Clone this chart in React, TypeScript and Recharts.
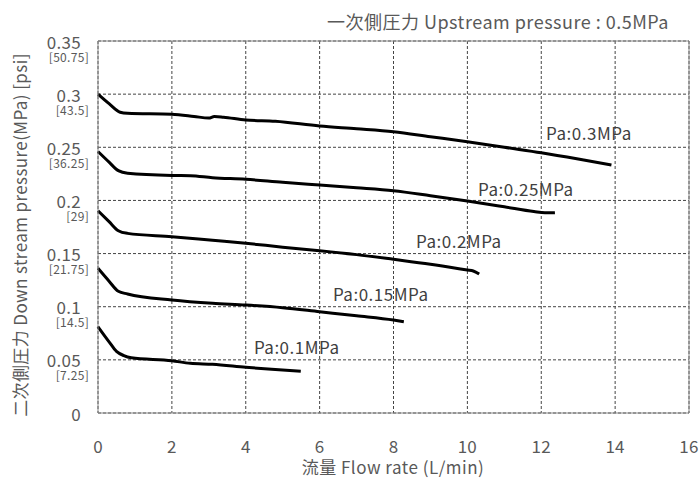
import { LineChart, Line, XAxis, YAxis, CartesianGrid, ReferenceLine, ReferenceDot } from "recharts";

// flow rate (L/min), downstream pressure (MPa)
const pa03: [number, number][] = [
  [0, 0.3], [0.3, 0.291], [0.6, 0.283], [0.8, 0.282], [2, 0.281], [2.6, 0.279], [3.0, 0.2775],
  [3.15, 0.279], [3.4, 0.2783], [4, 0.2757], [4.8, 0.2745], [6, 0.27], [7, 0.2675], [8, 0.2647],
  [9, 0.26], [10, 0.2553], [11, 0.25], [12, 0.2449], [13, 0.239], [13.9, 0.2333],
];
const pa025: [number, number][] = [
  [0, 0.246], [0.3, 0.236], [0.55, 0.228], [0.8, 0.2255], [2, 0.2235], [2.5, 0.2233], [3.1, 0.2214],
  [4, 0.2199], [5, 0.217], [6, 0.2145], [7, 0.212], [8, 0.2092], [9, 0.2045], [10, 0.1995],
  [11, 0.194], [11.8, 0.1895], [12.1, 0.1883], [12.37, 0.1885],
];
const pa02: [number, number][] = [
  [0, 0.1903], [0.3, 0.18], [0.55, 0.1715], [0.8, 0.169], [2, 0.1659], [3.1, 0.1625], [4, 0.1597],
  [5, 0.156], [6, 0.1527], [7, 0.149], [8, 0.1446], [9, 0.14], [10, 0.1345], [10.16, 0.1336], [10.32, 0.1307],
];
const pa015: [number, number][] = [
  [0, 0.1361], [0.3, 0.124], [0.55, 0.1145], [0.8, 0.112], [2, 0.1063], [3.1, 0.1032], [4, 0.1016],
  [5, 0.0991], [6, 0.0953], [7, 0.0915], [8, 0.0875], [8.28, 0.0859],
];
const pa01: [number, number][] = [
  [0, 0.0812], [0.3, 0.067], [0.5, 0.058], [0.7, 0.054], [0.9, 0.052], [2, 0.0492], [2.5, 0.0467],
  [3.1, 0.0458], [4, 0.043], [4.7, 0.0411], [5.49, 0.0392],
];

const seriesNames = ["Pa:0.3MPa", "Pa:0.25MPa", "Pa:0.2MPa", "Pa:0.15MPa", "Pa:0.1MPa"];
const seriesData = [pa03, pa025, pa02, pa015, pa01];
// where each series name sits (flow, pressure)
const labelAnchors: [number, number][] = [
  [12.13, 0.2625], [10.29, 0.2098], [8.61, 0.1609], [6.36, 0.111], [4.22, 0.0612],
];

const xTicks = [0, 2, 4, 6, 8, 10, 12, 14, 16];
const yTicks = [0, 0.05, 0.1, 0.15, 0.2, 0.25, 0.3, 0.35];
const psiLabels = ["", "[7.25]", "[14.5]", "[21.75]", "[29]", "[36.25]", "[43.5]", "[50.75]"];

const FONT = "'Noto Sans CJK JP', 'Noto Sans', sans-serif";
const GRAY = "#595959";

const toPoints = (arr: [number, number][]) => arr.map(([x, y]) => ({ x, y }));

function YTick(props: any) {
  const { x, y, payload, index } = props;
  const psi = psiLabels[index] ?? "";
  return (
    <g>
      <text x={x - 9} y={y} textAnchor="end" dominantBaseline="central" fontSize={17} letterSpacing={0.3} fill={GRAY} fontFamily={FONT}>
        {String(payload.value)}
      </text>
      {psi && (
        <text x={x - 1} y={y + 15} textAnchor="end" dominantBaseline="central" fontSize={12} letterSpacing={0.3} fill={GRAY} fontFamily={FONT}>
          {psi}
        </text>
      )}
    </g>
  );
}

function XTick(props: any) {
  const { x, y, payload } = props;
  return (
    <text x={x} y={y + 24} textAnchor="middle" dominantBaseline="central" fontSize={17} letterSpacing={0.3} fill={GRAY} fontFamily={FONT}>
      {payload.value}
    </text>
  );
}

export default function App() {
  return (
    <div style={{ position: "relative", width: 699, height: 478, background: "#fff", fontFamily: FONT, overflow: "hidden" }}>
      <style>{`body{margin:0}`}</style>
      <LineChart width={699} height={478} margin={{ top: 41, right: 10, left: 0, bottom: 0 }}>
        <CartesianGrid stroke="#444" strokeDasharray="3 2" strokeWidth={1} />
        <XAxis
          type="number"
          dataKey="x"
          domain={[0, 16]}
          ticks={xTicks}
          height={65}
          tickLine={false}
          axisLine={{ stroke: "#888" }}
          tick={<XTick />}
          interval={0}
        />
        <YAxis
          type="number"
          dataKey="y"
          domain={[0, 0.35]}
          ticks={yTicks}
          width={98}
          tickLine={false}
          axisLine={{ stroke: "#888" }}
          tick={<YTick />}
          interval={0}
        />
        <ReferenceLine y={0.35} stroke="#888" />
        <ReferenceLine x={16} stroke="#888" />
        {seriesData.map((s, i) => (
          <Line
            key={seriesNames[i]}
            data={toPoints(s)}
            dataKey="y"
            type="monotone"
            stroke="#000"
            strokeWidth={3}
            dot={false}
            isAnimationActive={false}
          />
        ))}
        {labelAnchors.map(([x, y], i) => (
          <ReferenceDot
            key={`lbl-${i}`}
            x={x}
            y={y}
            r={0}
            fill="none"
            stroke="none"
            label={{ value: seriesNames[i], position: "right", offset: 0, fontSize: 17, letterSpacing: 0.5, fill: "#404040", fontFamily: FONT }}
          />
        ))}
      </LineChart>
      <div style={{ position: "absolute", right: 30, top: 12, fontSize: 18, lineHeight: 1, letterSpacing: 0.5, color: GRAY, whiteSpace: "nowrap" }}>
        一次側圧力 Upstream pressure : 0.5MPa
      </div>
      <div style={{ position: "absolute", left: 393, top: 458, transform: "translateX(-50%)", fontSize: 17, lineHeight: 1, letterSpacing: 0.5, color: GRAY, whiteSpace: "nowrap" }}>
        流量 Flow rate (L/min)
      </div>
      <div
        style={{
          position: "absolute",
          left: 19,
          top: 235,
          transform: "translate(-50%, -50%) rotate(-90deg)",
          fontSize: 17,
          lineHeight: 1,
          letterSpacing: 0.4,
          color: GRAY,
          whiteSpace: "nowrap",
        }}
      >
        二次側圧力 Down stream pressure(MPa) [psi]
      </div>
    </div>
  );
}
